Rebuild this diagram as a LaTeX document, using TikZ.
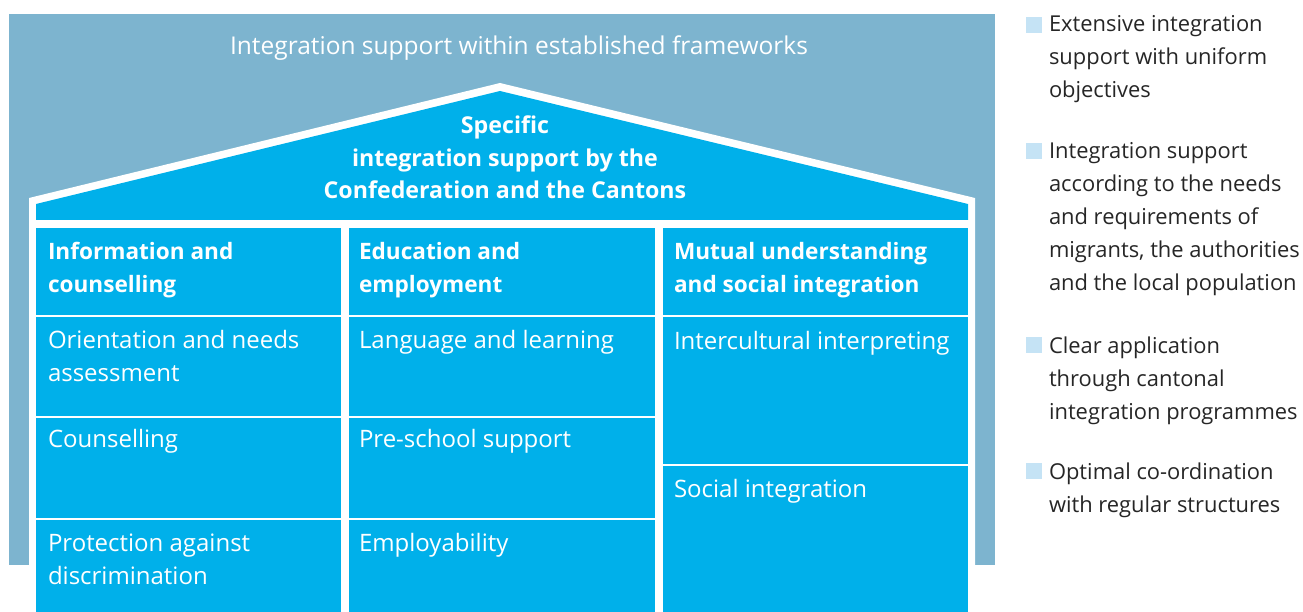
\documentclass[tikz,border=0pt]{standalone}
\usepackage{fontspec}
\setmainfont{Open Sans}
\definecolor{bgblue}{RGB}{125,180,207}
\definecolor{cyanb}{RGB}{0,176,234}
\definecolor{legsq}{RGB}{197,227,245}
\newcommand\LL[1]{\vtop{\baselineskip=33pt\lineskiplimit=-1000pt\lineskip=0pt\halign{##\hfil\cr#1\crcr}}}
\newcommand\LC[1]{\vtop{\baselineskip=32.5pt\lineskiplimit=-1000pt\lineskip=0pt\halign{\hfil##\hfil\cr#1\crcr}}}
\tikzset{
  txt/.style={inner sep=0pt, outer sep=0pt, text=white, font=\fontsize{24}{33}\selectfont, anchor=base west},
  htxt/.style={txt, font=\fontsize{22.6}{33}\selectfont\bfseries},
  rtxt/.style={txt, font=\fontsize{23.2}{33}\selectfont\bfseries},
  ttxt/.style={txt, font=\fontsize{24.5}{33}\selectfont},
  ltxt/.style={txt, text=black!85, font=\fontsize{21.9}{33}\selectfont},
  cell/.style={fill=cyanb, draw=none},
  legbox/.style={fill=legsq, draw=none, inner sep=0pt, minimum size=16pt, anchor=south west},
}
\begin{document}
\begin{tikzpicture}[x=1pt,y=-1pt]
\useasboundingbox (0,0) rectangle (1303,612);
% background frame
\fill[bgblue] (9,14) rectangle (995,565);
\node[ttxt, anchor=base] (top) at (519,55) {Integration support within established frameworks};
% house outline (white)
\fill[white] (29,612) -- (29,198) -- (500,83) -- (975,198) -- (975,612) -- cycle;
% roof
\fill[cyanb] (36,220) -- (36,204) -- (500,91) -- (968,204) -- (968,220) -- cycle;
\node[rtxt, anchor=base] (roof) at (505,134) {\LC{Specific\cr integration support by the\cr Confederation and the Cantons}};
% cells column 1
\fill[cell] (36,228) rectangle (341,315);
\fill[cell] (36,317) rectangle (341,416);
\fill[cell] (36,418) rectangle (341,518);
\fill[cell] (36,520) rectangle (341,612);
% column 2
\fill[cell] (349,228) rectangle (655,315);
\fill[cell] (349,317) rectangle (655,416);
\fill[cell] (349,418) rectangle (655,518);
\fill[cell] (349,520) rectangle (655,612);
% column 3
\fill[cell] (663,228) rectangle (968,315);
\fill[cell] (663,317) rectangle (968,464);
\fill[cell] (663,466) rectangle (968,612);
% texts
\node[htxt] (h1) at (48,259) {\LL{Information and\cr counselling}};
\node[htxt] (h2) at (359,259) {\LL{Education and\cr employment}};
\node[htxt] (h3) at (674,259) {\LL{Mutual understanding\cr and social integration}};
\node[txt] (a1) at (48,348) {\LL{Orientation and needs\cr assessment}};
\node[txt] (a2) at (48,447) {Counselling};
\node[txt] (a3) at (48,551) {\LL{Protection against\cr discrimination}};
\node[txt] (b1) at (359,348) {Language and learning};
\node[txt] (b2) at (359,447) {Pre-school support};
\node[txt] (b3) at (359,551) {Employability};
\node[txt] (c1) at (674,349) {Intercultural interpreting};
\node[txt] (c2) at (674,497) {Social integration};
% legend
\node[legbox] (s1) at (1026,33) {};
\node[ltxt] (l1) at (1049,32) {\LL{Extensive integration\cr support with uniform\cr objectives}};
\node[legbox] (s2) at (1026,159) {};
\node[ltxt] (l2) at (1049,159) {\LL{Integration support\cr according to the needs\cr and requirements of\cr migrants, the authorities\cr and the local population}};
\node[legbox] (s3) at (1026,353) {};
\node[ltxt] (l3) at (1049,353) {\LL{Clear application\cr through cantonal\cr integration programmes}};
\node[legbox] (s4) at (1026,479) {};
\node[ltxt] (l4) at (1049,479) {\LL{Optimal co-ordination\cr with regular structures}};
\end{tikzpicture}
\end{document}
